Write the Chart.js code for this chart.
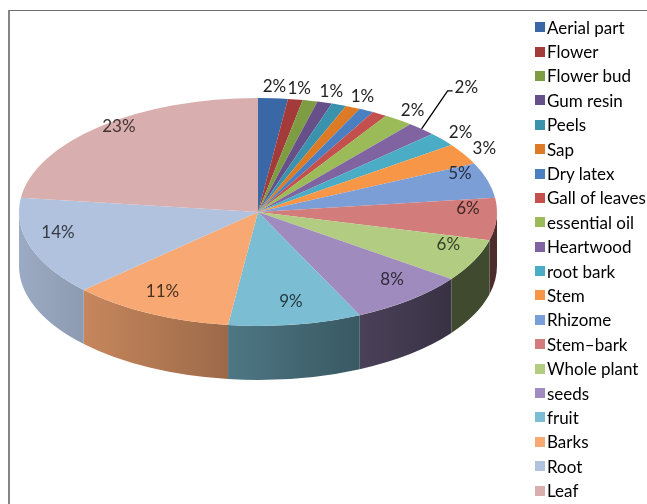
<!DOCTYPE html>
<html>
<head>
<meta charset="utf-8">
<script src="https://cdn.jsdelivr.net/npm/chart.js@4.4.0/dist/chart.umd.min.js"></script>
<style>
  html, body { margin: 0; padding: 0; background: #fff; overflow: hidden; }
  #wrap { position: relative; width: 647px; height: 504px; }
  #frame { position: absolute; left: 8px; top: 10px; width: 700px; height: 600px; border-left: 2px solid #858585; border-top: 1px solid #6f6f6f; }
  #chart { position: absolute; left: 0; top: 0; }
  #legend-container { position: absolute; left: 535px; top: 15px; }
</style>
</head>
<body>
<div id="wrap">
  <div id="frame"></div>
  <canvas id="chart" width="647" height="504"></canvas>
  <div id="legend-container"></div>
</div>
<script>
// plant parts, clockwise from 12 o'clock
const parts = [
  'Aerial part', 'Flower', 'Flower bud', 'Gum resin', 'Peels', 'Sap',
  'Dry latex', 'Gall of leaves', 'essential oil', 'Heartwood', 'root bark',
  'Stem', 'Rhizome', 'Stem\u2013bark', 'Whole plant', 'seeds', 'fruit',
  'Barks', 'Root', 'Leaf',
]
// share of each part, %
const percents = [2, 1, 1, 1, 1, 1, 1, 1, 2, 2, 2, 3, 5, 6, 6, 8, 9, 11, 14, 23]

// labels left out in the original (too crowded)
const unlabeled = ['Flower bud', 'Peels', 'Dry latex', 'Gall of leaves']
const leaderLabel = 'Heartwood'

const colors = [
  '#3a67a6', '#a33b3a', '#7e9d42', '#67508a', '#3a92ad', '#dd7a26',
  '#4a7fc1', '#c4504e', '#9bbb59', '#8064a2', '#4bacc6', '#f79646',
  '#7c9ed6', '#d27c7b', '#b2cd82', '#9f8bbd', '#7bbdd3', '#f8a873',
  '#b0c2de', '#d9aeae',
]

const TOP_CY = 212        // centre of the top face on screen
const TILT = 114 / 239    // vertical squash of the disc
const DEPTH = 54          // thickness of the disc, px
const LABEL_CY = 202      // perspective: labels sit a bit higher
const FONT = 'Lato, "Open Sans", sans-serif'

function shade(hex, f) {
  const n = parseInt(hex.slice(1), 16)
  const r = Math.round(((n >> 16) & 255) * f)
  const g = Math.round(((n >> 8) & 255) * f)
  const b = Math.round((n & 255) * f)
  return `rgb(${r},${g},${b})`
}

// light comes from the left
function sideLight(t) {
  return Math.max(0.36, 0.88 - 0.58 * t)
}

const pie3d = {
  id: 'pie3d',
  beforeDatasetsDraw(chart) {
    const ctx = chart.ctx
    const arcs = chart.getDatasetMeta(0).data
    const { x, y } = arcs[0]
    ctx.save()
    ctx.translate(x, TOP_CY)
    ctx.scale(1, TILT)
    ctx.translate(-x, -y)

    // front wall of the disc
    arcs.forEach((arc, i) => {
      const s = Math.max(arc.startAngle, 0)
      const e = Math.min(arc.endAngle, Math.PI)
      if (e <= s) return
      const r = arc.outerRadius
      const d = DEPTH / TILT
      const grad = ctx.createLinearGradient(x - r, 0, x + r, 0)
      for (let k = 0; k <= 10; k++) {
        grad.addColorStop(k / 10, shade(colors[i], sideLight(k / 10)))
      }
      ctx.beginPath()
      ctx.arc(x, y, r, s, e)
      ctx.arc(x, y + d, r, e, s, true)
      ctx.closePath()
      ctx.fillStyle = grad
      ctx.fill()
    })
  },
  afterDatasetsDraw(chart) {
    const ctx = chart.ctx
    ctx.restore()

    const arcs = chart.getDatasetMeta(0).data
    ctx.save()
    ctx.font = `17px ${FONT}`
    ctx.textAlign = 'center'
    ctx.textBaseline = 'middle'
    arcs.forEach((arc, i) => {
      if (unlabeled.includes(parts[i])) return
      const mid = (arc.startAngle + arc.endAngle) / 2
      const r = arc.outerRadius
      const at = (f, cy) => ({
        x: arc.x + Math.cos(mid) * r * f,
        y: cy + Math.sin(mid) * r * f * TILT,
      })
      const text = percents[i] + '%'
      if (parts[i] === leaderLabel) {
        const p = at(1, TOP_CY)
        ctx.strokeStyle = '#000'
        ctx.lineWidth = 1.3
        ctx.beginPath()
        ctx.moveTo(p.x, p.y)
        ctx.lineTo(p.x + 26, p.y - 38)
        ctx.lineTo(p.x + 31, p.y - 38)
        ctx.stroke()
        ctx.fillStyle = '#222'
        ctx.textAlign = 'left'
        ctx.fillText(text, p.x + 33, p.y - 41)
        ctx.textAlign = 'center'
        return
      }
      let p
      if (percents[i] >= 5) {
        p = at(0.88, LABEL_CY)
        ctx.fillStyle = shade(colors[i], 0.3)
      } else {
        p = at(1.1, TOP_CY)
        ctx.fillStyle = '#222'
      }
      ctx.fillText(text, p.x, p.y)
    })
    ctx.restore()
  },
}

// HTML legend
const htmlLegendPlugin = {
  id: 'htmlLegend',
  afterUpdate(chart) {
    const box = document.getElementById('legend-container')
    box.innerHTML = ''
    const ul = document.createElement('ul')
    ul.style.listStyle = 'none'
    ul.style.margin = 0
    ul.style.padding = 0
    parts.forEach((name, i) => {
      const li = document.createElement('li')
      li.style.display = 'flex'
      li.style.alignItems = 'center'
      li.style.height = '24.4px'
      li.style.fontFamily = FONT
      li.style.fontSize = '17px'
      li.style.color = '#000'
      const sw = document.createElement('span')
      sw.style.display = 'inline-block'
      sw.style.width = '10px'
      sw.style.height = '10px'
      sw.style.marginRight = '2px'
      sw.style.background = colors[i]
      li.appendChild(sw)
      li.appendChild(document.createTextNode(name))
      ul.appendChild(li)
    })
    box.appendChild(ul)
  },
}

const ctx = document.getElementById('chart').getContext('2d')
new Chart(ctx, {
  type: 'pie',
  data: {
    labels: parts,
    datasets: [{
      data: percents,
      backgroundColor: colors,
      borderWidth: 0,
      clip: false,
    }],
  },
  options: {
    responsive: false,
    animation: false,
    layout: { padding: { left: 19, right: 150, top: 13, bottom: 13 } },
    plugins: {
      legend: { display: false },
      tooltip: { enabled: false },
    },
  },
  plugins: [pie3d, htmlLegendPlugin],
})
</script>
</body>
</html>
